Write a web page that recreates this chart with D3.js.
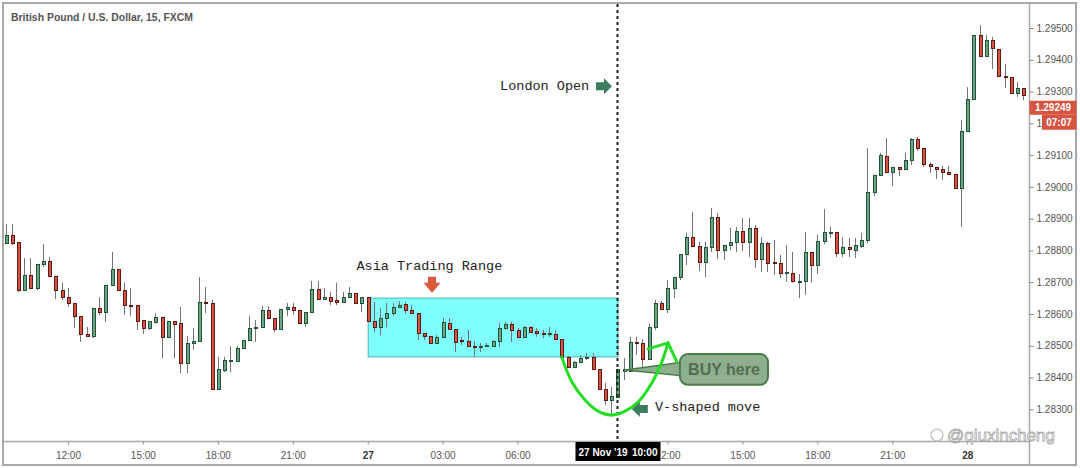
<!DOCTYPE html>
<html><head><meta charset="utf-8">
<script src="https://cdn.jsdelivr.net/npm/d3@7"></script>
<style>
html,body{margin:0;padding:0;background:#fff;}
svg{display:block;}
</style></head><body>
<svg id="c" width="1080" height="468"></svg>
<script>
const title = "British Pound / U.S. Dollar, 15, FXCM";
const open = [1.28823,1.28849,1.28827,1.28675,1.28723,1.28682,1.28757,1.28767,1.28720,1.28675,
1.28653,1.28635,1.28594,1.28537,1.28531,1.28619,1.28606,1.28691,1.28742,1.28675,
1.28628,1.28628,1.28581,1.28556,1.28575,1.28591,1.28528,1.28578,1.28572,1.28446,
1.28509,1.28515,1.28638,1.28635,1.28364,1.28424,1.28452,1.28452,1.28493,1.28518,
1.28556,1.28559,1.28613,1.28587,1.28553,1.28616,1.28622,1.28613,1.28572,1.28606,
1.28679,1.28647,1.28653,1.28644,1.28638,1.28653,1.28666,1.28635,1.28653,1.28578,
1.28559,1.28587,1.28603,1.28622,1.28631,1.28613,1.28603,1.28540,1.28531,1.28509,
1.28528,1.28572,1.28553,1.28518,1.28515,1.28499,1.28496,1.28499,1.28499,1.28515,
1.28556,1.28569,1.28550,1.28528,1.28559,1.28546,1.28540,1.28537,1.28537,1.28521,
1.28465,1.28433,1.28449,1.28461,1.28465,1.28427,1.28364,1.28329,1.28339,1.28421,
1.28421,1.28512,1.28509,1.28458,1.28559,1.28635,1.28616,1.28682,1.28716,1.28789,
1.28842,1.28814,1.28764,1.28811,1.28905,1.28801,1.28817,1.28827,1.28861,1.28827,
1.28871,1.28773,1.28823,1.28764,1.28760,1.28729,1.28729,1.28701,1.28704,1.28795,
1.28754,1.28830,1.28855,1.28858,1.28792,1.28811,1.28801,1.28814,1.28833,1.28984,
1.29037,1.29097,1.29047,1.29063,1.29056,1.29085,1.29151,1.29122,1.29072,1.29063,
1.29056,1.29047,1.29041,1.28996,1.29176,1.29277,1.29478,1.29412,1.29462,1.29434,
1.29349,1.29346,1.29295,1.29311];
const high = [1.28883,1.28883,1.28827,1.28776,1.28776,1.28757,1.28820,1.28779,1.28720,1.28698,
1.28682,1.28635,1.28594,1.28559,1.28619,1.28653,1.28691,1.28795,1.28742,1.28698,
1.28682,1.28628,1.28581,1.28578,1.28603,1.28591,1.28578,1.28578,1.28622,1.28531,
1.28556,1.28716,1.28685,1.28644,1.28465,1.28465,1.28499,1.28499,1.28518,1.28594,
1.28581,1.28625,1.28625,1.28587,1.28616,1.28635,1.28635,1.28613,1.28606,1.28704,
1.28704,1.28682,1.28669,1.28698,1.28669,1.28685,1.28666,1.28653,1.28653,1.28638,
1.28619,1.28635,1.28635,1.28641,1.28638,1.28628,1.28603,1.28540,1.28531,1.28534,
1.28587,1.28587,1.28553,1.28528,1.28550,1.28515,1.28509,1.28509,1.28518,1.28572,
1.28575,1.28575,1.28556,1.28562,1.28562,1.28556,1.28550,1.28559,1.28550,1.28521,
1.28468,1.28452,1.28471,1.28477,1.28477,1.28427,1.28383,1.28370,1.28427,1.28461,
1.28528,1.28528,1.28521,1.28569,1.28644,1.28641,1.28707,1.28716,1.28789,1.28855,
1.28921,1.28827,1.28827,1.28934,1.28918,1.28817,1.28871,1.28874,1.28902,1.28902,
1.28880,1.28842,1.28827,1.28833,1.28786,1.28817,1.28795,1.28726,1.28858,1.28795,
1.28849,1.28930,1.28874,1.28858,1.28842,1.28839,1.28839,1.28855,1.29122,1.29037,
1.29107,1.29154,1.29063,1.29063,1.29107,1.29154,1.29157,1.29122,1.29078,1.29063,
1.29066,1.29066,1.29041,1.29210,1.29314,1.29478,1.29509,1.29478,1.29472,1.29434,
1.29387,1.29346,1.29330,1.29311];
const low = [1.28820,1.28817,1.28669,1.28672,1.28682,1.28675,1.28748,1.28716,1.28647,1.28644,
1.28622,1.28556,1.28512,1.28528,1.28524,1.28597,1.28575,1.28691,1.28675,1.28597,
1.28594,1.28550,1.28537,1.28550,1.28569,1.28461,1.28524,1.28461,1.28414,1.28414,
1.28487,1.28515,1.28603,1.28361,1.28364,1.28417,1.28417,1.28449,1.28490,1.28518,
1.28512,1.28559,1.28587,1.28543,1.28553,1.28594,1.28597,1.28572,1.28559,1.28606,
1.28647,1.28644,1.28628,1.28628,1.28635,1.28653,1.28635,1.28606,1.28578,1.28543,
1.28534,1.28559,1.28594,1.28619,1.28600,1.28600,1.28518,1.28518,1.28506,1.28506,
1.28524,1.28550,1.28480,1.28502,1.28496,1.28465,1.28480,1.28496,1.28496,1.28496,
1.28550,1.28512,1.28524,1.28524,1.28543,1.28528,1.28524,1.28528,1.28518,1.28461,
1.28433,1.28430,1.28446,1.28455,1.28424,1.28364,1.28314,1.28276,1.28339,1.28392,
1.28421,1.28471,1.28430,1.28458,1.28550,1.28613,1.28603,1.28650,1.28707,1.28754,
1.28811,1.28735,1.28716,1.28795,1.28773,1.28770,1.28801,1.28795,1.28798,1.28779,
1.28745,1.28732,1.28732,1.28723,1.28713,1.28701,1.28698,1.28650,1.28660,1.28698,
1.28726,1.28820,1.28839,1.28779,1.28779,1.28779,1.28776,1.28808,1.28823,1.28971,
1.29034,1.29044,1.29003,1.29034,1.29053,1.29069,1.29113,1.29063,1.29044,1.29025,
1.29022,1.29037,1.28996,1.28874,1.29176,1.29273,1.29412,1.29412,1.29371,1.29349,
1.29311,1.29295,1.29283,1.29273];
const close = [1.28849,1.28823,1.28675,1.28723,1.28682,1.28757,1.28767,1.28720,1.28675,1.28653,
1.28635,1.28594,1.28537,1.28531,1.28619,1.28606,1.28691,1.28742,1.28675,1.28628,
1.28625,1.28578,1.28556,1.28578,1.28591,1.28528,1.28578,1.28569,1.28446,1.28509,
1.28515,1.28638,1.28635,1.28364,1.28427,1.28455,1.28455,1.28493,1.28518,1.28556,
1.28559,1.28613,1.28587,1.28553,1.28616,1.28622,1.28613,1.28572,1.28606,1.28679,
1.28647,1.28653,1.28641,1.28638,1.28653,1.28666,1.28635,1.28653,1.28578,1.28559,
1.28587,1.28603,1.28622,1.28628,1.28613,1.28603,1.28540,1.28531,1.28509,1.28528,
1.28575,1.28553,1.28512,1.28515,1.28499,1.28496,1.28499,1.28502,1.28515,1.28556,
1.28569,1.28550,1.28528,1.28559,1.28543,1.28540,1.28537,1.28540,1.28521,1.28465,
1.28433,1.28449,1.28461,1.28465,1.28427,1.28364,1.28329,1.28342,1.28427,1.28427,
1.28512,1.28509,1.28458,1.28559,1.28635,1.28616,1.28682,1.28716,1.28789,1.28842,
1.28814,1.28764,1.28811,1.28905,1.28801,1.28817,1.28827,1.28861,1.28827,1.28871,
1.28773,1.28823,1.28760,1.28760,1.28729,1.28732,1.28704,1.28704,1.28795,1.28754,
1.28830,1.28858,1.28858,1.28792,1.28811,1.28805,1.28817,1.28833,1.28984,1.29037,
1.29100,1.29047,1.29063,1.29056,1.29085,1.29151,1.29122,1.29072,1.29066,1.29056,
1.29047,1.29041,1.28996,1.29176,1.29277,1.29478,1.29412,1.29462,1.29437,1.29349,
1.29346,1.29295,1.29311,1.29289];
const priceTicks = [1.283,1.284,1.285,1.286,1.287,1.288,1.289,1.290,1.291,1.292,1.293,1.294,1.295];
const timeTickIndex = [10,22,34,46,58,70,82,106,118,130,142,154];
const timeTickLabels = ["12:00","15:00","18:00","21:00","27","03:00","06:00","12:00","15:00","18:00","21:00","28"];
const dayLabels = ["27","28"];
const lastPrice = 1.29249;
const countdown = "07:07";
const crossIndex = 98;
const crossDate = "27 Nov '19";
const crossTime = "10:00";
// annotation anchors in data space (candle index, price)
const asiaRange = {from: 58, to: 98, top: 1.28650, bottom: 1.28465};
const vCurve = [[89.06,1.28465],[90.7,1.28386],[92.8,1.28329],[94.8,1.28295],[96.9,1.28282],[99.0,1.28292],[101.3,1.28323],[103.5,1.28383],[105.1,1.28449],[106.1,1.28509]];
const vHead = [[102.9,1.28490],[106.1,1.28509],[107.5,1.28449]];
const buyBox = {from: 108.0, to: 122.1, top: 1.28474, bottom: 1.28377, tip: [99.2,1.28424], label: "BUY here"};
const notes = [
  {text: "London Open", i: 79.2, p: 1.29305},
  {text: "Asia Trading Range", i: 56.2, p: 1.28739},
  {text: "V-shaped move", i: 104.0, p: 1.28295}
];
const arrows = [
  {dir: "right", i: 94.55, p: 1.29317, color: "#3b7d5c"},
  {dir: "down", i: 68.3, p: 1.28717, color: "#e0583c"},
  {dir: "left", i: 100.3, p: 1.28301, color: "#3b7d5c"}
];

const svg = d3.select("#c");
const upFill = "#6ba583", upBorder = "#225437", dnFill = "#d75442", dnBorder = "#5b1a13", wickColor = "#737375";
const x = d3.scaleLinear().domain([0, open.length - 1]).range([5.5, 1023.4]);
const y = d3.scaleLinear().domain([1.283, 1.295]).range([409.3, 28]);
const ly = y(lastPrice);

svg.append("rect").attr("x",0).attr("y",0).attr("width",1080).attr("height",468).attr("fill","#fff");

// Asia range box
svg.append("rect")
  .attr("x", x(asiaRange.from) + 0.5).attr("y", y(asiaRange.top))
  .attr("width", x(asiaRange.to) - x(asiaRange.from)).attr("height", y(asiaRange.bottom) - y(asiaRange.top))
  .attr("fill", "#80ffff").attr("stroke", "#45b5b5").attr("stroke-width", 1);

// candles
const data = open.map((o, i) => ({i, o, h: high[i], l: low[i], c: close[i]}));
const g = svg.append("g");
data.forEach(d => {
  const cx = Math.round(x(d.i));
  const up = d.c >= d.o;
  g.append("line").attr("x1", cx + 0.5).attr("x2", cx + 0.5)
    .attr("y1", y(d.h)).attr("y2", y(d.l)).attr("stroke", wickColor).attr("stroke-width", 1);
  const t = Math.round(y(Math.max(d.o, d.c))), b = Math.round(y(Math.min(d.o, d.c)));
  g.append("rect").attr("x", cx - 1 + 0.5).attr("y", t + 0.5)
    .attr("width", 3).attr("height", Math.max(1, b - t))
    .attr("fill", up ? upFill : dnFill).attr("stroke", up ? upBorder : dnBorder).attr("stroke-width", 1);
});

// frame & axes lines
svg.append("rect").attr("x",3).attr("y",3).attr("width",1073).attr("height",462)
  .attr("fill","none").attr("stroke","#a9a9a9").attr("stroke-width",2);
svg.append("line").attr("x1",3).attr("x2",1029).attr("y1",441.5).attr("y2",441.5).attr("stroke","#a9a9a9").attr("stroke-width",1.5);
svg.append("line").attr("x1",1029.5).attr("x2",1029.5).attr("y1",3).attr("y2",465).attr("stroke","#a9a9a9").attr("stroke-width",1.5);

// right price axis; the tick sitting under the countdown box only shows its first glyph
const hiddenTick = d => Math.abs(y(d) - (ly + 14.5)) < 8;
const ya = svg.append("g").attr("transform","translate(1029.5,0)")
  .call(d3.axisRight(y).tickValues(priceTicks)
    .tickFormat(d => hiddenTick(d) ? d3.format(".5f")(d).slice(0,1) : d3.format(".5f")(d))
    .tickSize(4).tickPadding(3));
ya.select(".domain").remove();
ya.selectAll("line").attr("stroke","#8a8a8a");
ya.selectAll("text").attr("fill","#555").style("font-family","'Liberation Sans', Arial, sans-serif").style("font-size","10px");

// bottom time axis
const xa = svg.append("g").attr("transform","translate(0,441.5)")
  .call(d3.axisBottom(x).tickValues(timeTickIndex).tickFormat((d, k) => timeTickLabels[k]).tickSize(3).tickPadding(7));
xa.select(".domain").remove();
xa.selectAll("line").attr("stroke","#8a8a8a");
xa.selectAll("text").attr("fill", (d,k) => dayLabels.includes(timeTickLabels[k]) ? "#333" : "#555")
  .style("font-weight", (d,k) => dayLabels.includes(timeTickLabels[k]) ? "bold" : "normal")
  .style("font-family","'Liberation Sans', Arial, sans-serif").style("font-size","10px");

// title
svg.append("text").attr("x",11).attr("y",21).text(title)
  .attr("textLength",182).attr("lengthAdjust","spacingAndGlyphs")
  .attr("fill","#555").style("font-family","'Liberation Sans', Arial, sans-serif")
  .style("font-size","11px").style("font-weight","bold");

// crosshair
svg.append("line").attr("x1", x(crossIndex)).attr("x2", x(crossIndex)).attr("y1", 4).attr("y2", 442)
  .attr("stroke","#222").attr("stroke-width",2).attr("stroke-dasharray","3,3");
const cbx = x(crossIndex);
svg.append("rect").attr("x", cbx - 42).attr("y", 442).attr("width", 85).attr("height", 19).attr("fill","#000");
svg.append("text").attr("x", cbx - 39).attr("y", 455.5).text(crossDate)
  .attr("fill","#fff").style("font-family","'Liberation Sans', Arial, sans-serif").style("font-size","10px").style("font-weight","bold");
svg.append("text").attr("x", cbx + 40).attr("y", 455.5).attr("text-anchor","end").text(crossTime)
  .attr("fill","#fff").style("font-family","'Liberation Sans', Arial, sans-serif").style("font-size","10px").style("font-weight","bold");

// last price + countdown
svg.append("rect").attr("x",1029.5).attr("y", ly - 7).attr("width",47).attr("height",14).attr("fill","#d75442");
svg.append("text").attr("x",1053).attr("y", ly + 3.5).attr("text-anchor","middle").text(d3.format(".5f")(lastPrice))
  .attr("fill","#fff").style("font-family","'Liberation Sans', Arial, sans-serif").style("font-size","10px").style("font-weight","bold");
svg.append("rect").attr("x",1042).attr("y", ly + 7).attr("width",34.5).attr("height",15).attr("fill","#d75442");
svg.append("text").attr("x",1059).attr("y", ly + 18).attr("text-anchor","middle").text(countdown)
  .attr("fill","#fff").style("font-family","'Liberation Sans', Arial, sans-serif").style("font-size","10px").style("font-weight","bold");

// notes
notes.forEach(n => {
  svg.append("text").attr("x", x(n.i)).attr("y", y(n.p)).text(n.text)
    .attr("fill","#222").style("font-family","'Liberation Mono', 'Courier New', monospace").style("font-size","13.5px");
});

// block arrows
arrows.forEach(a => {
  const ax = x(a.i), ay = y(a.p);
  let pts;
  if (a.dir === "right") pts = [[0,-4],[8,-4],[8,-8],[16,0],[8,8],[8,4],[0,4]].map(p=>[ax+p[0], ay+p[1]]);
  if (a.dir === "left") pts = [[16,-4],[8,-4],[8,-8],[0,0],[8,8],[8,4],[16,4]].map(p=>[ax+p[0], ay+p[1]]);
  if (a.dir === "down") pts = [[-4,0],[4,0],[4,6],[8.5,6],[0,16],[-8.5,6],[-4,6]].map(p=>[ax+p[0], ay+p[1]]);
  svg.append("polygon").attr("points", pts.map(p=>p.join(",")).join(" ")).attr("fill", a.color);
});

// BUY here callout
const bx0 = x(buyBox.from), bx1 = x(buyBox.to), by0 = y(buyBox.top), by1 = y(buyBox.bottom);
const tip = [x(buyBox.tip[0]), y(buyBox.tip[1])];
svg.append("polygon").attr("points", [[bx0+4, by0+8], tip, [bx0+4, by0+22]].map(p=>p.join(",")).join(" "))
  .attr("fill","#8daf8d").attr("stroke","#4c7c4c").attr("stroke-width",1.5);
svg.append("rect").attr("x",bx0).attr("y",by0).attr("width",bx1-bx0).attr("height",by1-by0).attr("rx",8)
  .attr("fill","#8daf8d").attr("stroke","#4c7c4c").attr("stroke-width",2);
svg.append("rect").attr("x",bx0+1).attr("y",by0+7).attr("width",6).attr("height",16).attr("fill","#8daf8d");
svg.append("text").attr("x",(bx0+bx1)/2).attr("y",(by0+by1)/2+5.5).attr("text-anchor","middle").text(buyBox.label)
  .attr("fill","#566b56").style("font-family","'Liberation Sans', Arial, sans-serif").style("font-size","16px").style("font-weight","bold");

// V curve
const line = d3.line().x(d=>x(d[0])).y(d=>y(d[1])).curve(d3.curveCatmullRom);
svg.append("path").attr("d", line(vCurve)).attr("fill","none").attr("stroke","#22dd22").attr("stroke-width",3).attr("stroke-linecap","round");
svg.append("path").attr("d", d3.line().x(d=>x(d[0])).y(d=>y(d[1]))(vHead)).attr("fill","none")
  .attr("stroke","#22dd22").attr("stroke-width",3).attr("stroke-linejoin","round").attr("stroke-linecap","round");

// watermark
svg.append("circle").attr("cx",937).attr("cy",435).attr("r",6).attr("fill","none").attr("stroke","#bbb").attr("stroke-width",1.2);
svg.append("text").attr("x",947).attr("y",441).text("@qiuxincheng")
  .attr("fill","#fff").attr("stroke","#aaa").attr("stroke-width",0.8)
  .style("font-family","'Liberation Sans', Arial, sans-serif").style("font-size","17px");
</script>
</body></html>
